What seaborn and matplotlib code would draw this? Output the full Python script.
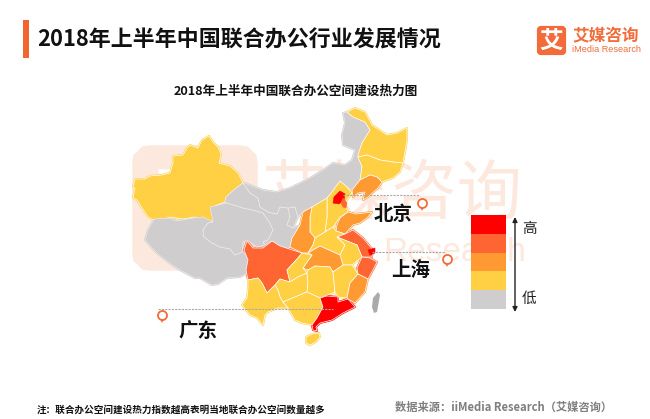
# 2018 H1 coworking space heat map of China (outlines, in pixels)

import matplotlib.pyplot as plt
from matplotlib.colors import ListedColormap
from matplotlib.patches import FancyBboxPatch
import numpy as np
import pandas as pd
import seaborn as sns

sns.set_theme(style="white")
plt.rcParams['font.family'] = ['Noto Sans CJK SC', 'DejaVu Sans']

# ================================== Data ==================================
title = "2018年上半年中国联合办公行业发展情况"
subtitle = "2018年上半年中国联合办公空间建设热力图"
note = "注：联合办公空间建设热力指数越高表明当地联合办公空间数量越多"
source = "数据来源：iiMedia Research（艾媒咨询）"

level_colors = ["#CFCDCE", "#FFCF44", "#FF9A33", "#FF6532", "#FF0000"]
legend_levels = [4, 3, 2, 1, 0]

xinjiang = [(209,136),(213,142),(218,147),(221,155),(219,163),(230,166),(238,173),(243,183),(235,189),(226,197),(225,202),(217,205),(211,208),(213,220),(210,222),(195,217),(183,219),(170,217),(157,222),(148,217),(142,208),(137,200),(133,198),(135,188),(133,187),(135,179),(145,179),(150,176),(162,175),(170,173),(173,163),(173,156),(183,155),(187,148),(190,145),(198,148),(202,140)]
tibet = [(154,219),(169,218),(177,221),(193,218),(203,217),(213,222),(208,223),(203,230),(204,237),(212,243),(220,247),(230,249),(235,255),(242,252),(247,255),(250,268),(248,273),(240,277),(227,278),(218,284),(212,285),(200,278),(195,278),(180,270),(172,265),(158,254),(152,248),(145,240),(148,230)]
qinghai = [(210,207),(227,203),(243,208),(253,210),(263,213),(270,223),(273,230),(268,240),(263,242),(265,245),(257,247),(247,240),(243,242),(242,252),(235,255),(230,249),(220,247),(212,243),(204,237),(203,230),(208,223),(213,222)]
gansu = [(243,183),(250,193),(258,198),(260,207),(268,212),(277,214),(280,207),(288,208),(290,217),(287,225),(293,228),(300,225),(292,238),(290,247),(287,250),(277,245),(272,241),(265,245),(263,242),(268,240),(273,230),(270,223),(263,213),(253,210),(243,208),(227,203),(225,202),(226,197),(235,189)]
ningxia = [(288,208),(295,207),(298,217),(293,228),(287,225),(290,217)]
inner_mongolia = [(343,113),(347,112),(353,117),(365,122),(370,130),(362,143),(358,155),(362,167),(360,180),(352,190),(347,187),(340,181),(332,192),(327,198),(312,207),(303,212),(298,217),(295,207),(288,208),(280,207),(277,214),(268,212),(260,207),(258,198),(250,193),(243,183),(245,183),(263,190),(277,192),(290,188),(310,178),(323,170),(333,163),(345,165),(352,160),(355,150),(343,145),(342,135),(345,123)]
heilongjiang = [(347,112),(355,108),(365,112),(372,125),(387,135),(397,133),(407,128),(407,140),(403,163),(393,162),(380,160),(367,155),(358,157),(358,155),(362,143),(370,130),(365,122),(353,117)]
jilin = [(358,157),(367,155),(380,160),(393,162),(403,163),(400,172),(393,178),(382,182),(377,177),(370,175),(360,180),(362,167)]
liaoning = [(352,190),(360,180),(370,175),(377,177),(382,182),(378,188),(368,197),(363,200),(365,192),(358,193),(353,197)]
hebei = [(327,198),(332,192),(340,181),(347,187),(352,193),(345,203),(348,212),(340,217),(333,227),(325,232),(327,217)]
beijing = [(334,197),(340,191),(345,194),(344,200),(339,204),(333,203)]
tianjin = [(343,198),(347,203),(346,208),(343,207),(341,203)]
shanxi = [(312,207),(327,198),(327,217),(325,232),(315,238),(310,232),(310,217)]
shaanxi = [(312,207),(310,217),(310,232),(315,238),(313,245),(308,253),(302,253),(290,247),(292,238),(300,225),(303,212)]
shandong = [(337,225),(340,218),(348,212),(356,214),(372,212),(367,218),(360,223),(353,225),(345,234),(336,231)]
henan = [(315,238),(325,232),(333,227),(336,231),(345,234),(337,237),(345,245),(340,255),(320,246),(308,253),(313,245)]
jiangsu = [(345,234),(353,230),(363,238),(373,250),(372,257),(362,257),(357,245),(337,237)]
shanghai = [(368,250),(375,248),(375,253),(370,255)]
anhui = [(337,237),(357,245),(362,257),(352,265),(343,265),(340,255),(345,245)]
zhejiang = [(362,257),(370,258),(377,262),(373,270),(368,279),(358,274),(357,268)]
hubei = [(308,253),(320,246),(340,255),(343,265),(333,272),(330,267),(315,266),(308,270),(303,268),(312,255)]
sichuan = [(247,241),(253,248),(263,248),(272,241),(280,246),(302,253),(298,258),(287,270),(290,282),(280,279),(275,285),(267,293),(262,283),(258,278),(248,280),(246,270),(248,260),(244,250)]
chongqing = [(302,253),(312,255),(303,268),(307,273),(298,277),(290,282),(287,270),(298,258)]
guizhou = [(275,285),(280,279),(290,282),(298,277),(307,273),(308,282),(307,292),(295,297),(283,302),(280,297),(278,290)]
yunnan = [(248,280),(258,278),(262,283),(267,293),(275,285),(278,290),(280,297),(283,302),(288,308),(278,308),(268,312),(265,315),(263,325),(257,318),(250,315),(242,305),(247,298),(248,288)]
hunan = [(308,270),(315,266),(330,267),(333,272),(335,292),(320,298),(307,292),(308,282),(307,273)]
jiangxi = [(333,272),(343,265),(352,265),(358,274),(350,283),(347,298),(338,297),(335,292)]
fujian = [(358,274),(368,279),(365,292),(355,303),(348,299),(347,298),(350,283)]
guangxi = [(283,302),(295,297),(307,292),(320,298),(323,307),(317,318),(312,325),(302,323),(295,320),(288,308)]
guangdong = [(320,298),(327,296),(338,297),(338,302),(348,299),(355,307),(343,313),(332,320),(320,323),(316,327),(317,331),(313,330),(312,325),(317,318),(323,307)]
hainan = [(306,337),(312,334),(319,333),(320,337),(316,342),(310,345),(306,343)]

provinces = [xinjiang, tibet, qinghai, gansu, ningxia, inner_mongolia, heilongjiang, jilin,
             liaoning, hebei, shanxi, shaanxi, shandong, henan, jiangsu, anhui, zhejiang,
             hubei, sichuan, chongqing, guizhou, yunnan, hunan, jiangxi, fujian, guangxi,
             guangdong, hainan]
province_levels = [1, 0, 0, 0, 0, 0, 1, 1,
                   2, 1, 1, 2, 2, 1, 3, 1, 3,
                   2, 3, 1, 1, 1, 1, 1, 2, 1,
                   4, 1]
# too small to carry a white border
small_regions = [beijing, tianjin, shanghai]
small_levels = [4, 3, 4]
taiwan = [(378,292),(380,295),(377,312),(374,313),(372,307),(373,298)]

city_names = ["北京", "上海", "广东"]
city_label_x = [393, 411, 198]
city_label_y = [214, 270, 331]
leader_x0 = [343, 372, 158]
leader_x1 = [420, 445, 333]
leader_y = [195, 252, 309]
pin_x = [422, 447, 162]
pin_y = [203, 259, 315]

# ================================== Figure ==================================
fig = plt.figure(figsize=(6.5, 4.19), dpi=100)
ax = fig.add_axes([0, 0, 1, 1])
ax.set_xlim(0, 650)
ax.set_ylim(419, 0)
ax.axis("off")

# Watermark behind the map
wm = "#FDE8DD"
ax.add_patch(FancyBboxPatch((149, 162), 92, 92, boxstyle="round,pad=0,rounding_size=2",
                            fc=wm, ec=wm, lw=24, zorder=1))
ax.text(195, 208, "艾", fontsize=62, color="white", ha="center", va="center", zorder=1)
ax.text(392, 195, "艾媒咨询", fontsize=47, color=wm, ha="center", va="center", zorder=1)
ax.text(455, 252, "Research", fontsize=24, color=wm, ha="center", va="center",
        family="Liberation Sans", zorder=1)

# Header
ax.fill([23, 29, 29, 23], [20, 20, 58, 58], color="#F26430", lw=0)
ax.text(37, 40, title, fontsize=15.8, color="#111111", va="center", weight="bold")
ax.text(296, 91, subtitle, fontsize=9.1, color="#111111", ha="center", va="center", weight="bold")

# Logo
ax.add_patch(FancyBboxPatch((539, 28), 25, 25, boxstyle="round,pad=0,rounding_size=2",
                            fc="#F26B3A", ec="#F26B3A", lw=3))
ax.text(551.5, 40.5, "艾", fontsize=17, color="white", ha="center", va="center", weight="bold")
ax.text(606, 36, "艾媒咨询", fontsize=12, color="#F26B3A", ha="center", va="center", weight="bold")
ax.text(606, 50, "iMedia Research", fontsize=6.6, color="#F26B3A", ha="center", va="center",
        family="Liberation Sans")

# Map: a first pass in each fill colour closes the hairline gaps between outlines
for outline, level in zip(provinces, province_levels):
    xs, ys = zip(*outline)
    ax.fill(xs, ys, fc=level_colors[level], ec=level_colors[level], lw=1.4,
            joinstyle="round", zorder=2)
for outline, level in zip(provinces, province_levels):
    xs, ys = zip(*outline)
    ax.fill(xs, ys, fc=level_colors[level], ec="#FFFFFF" if level else "#ECEAEA", lw=0.5,
            joinstyle="round", zorder=2.1)
for outline, level in zip(small_regions, small_levels):
    xs, ys = zip(*outline)
    ax.fill(xs, ys, fc=level_colors[level], ec=level_colors[level], lw=0.4, zorder=2.2)
xs, ys = zip(*taiwan)
ax.fill(xs, ys, fc="#ABABAB", ec="none", zorder=2)

# Leader lines and city labels
for name, lx, ly, x0, x1, y, px, py in zip(city_names, city_label_x, city_label_y,
                                           leader_x0, leader_x1, leader_y, pin_x, pin_y):
    line = pd.DataFrame({"x": [x0, x1], "y": [y, y]})
    sns.lineplot(data=line, x="x", y="y", ax=ax, color="#AAAAAA", lw=0.8, ls=(0, (2, 1)), zorder=3,
                 errorbar=None, sort=False)
    ax.plot(px, py + 5, marker="v", ms=5, color="#F26B3A", mew=0, zorder=4)
    ax.plot(px, py, marker="o", ms=6.5, mfc="white", mec="#F26B3A", mew=1.3, zorder=4)
    ax.text(lx, ly, name, fontsize=14, color="#111111", ha="center", va="center",
            weight="bold", zorder=5)
ax.set_xlabel("")
ax.set_ylabel("")
ax.axis("off")
ax.set_xlim(0, 650)
ax.set_ylim(419, 0)

# Legend: stacked colour cells
leg = fig.add_axes([471 / 650, 1 - 309 / 419, 35 / 650, 94 / 419])
sns.heatmap(np.array(legend_levels).reshape(-1, 1), ax=leg, cmap=ListedColormap(level_colors),
            vmin=-0.5, vmax=4.5, cbar=False, xticklabels=False, yticklabels=False)
leg.patch.set_alpha(0)

ax.annotate("", xy=(515, 217), xytext=(515, 312),
            arrowprops=dict(arrowstyle="<|-|>", color="#222222", lw=1, mutation_scale=7,
                            shrinkA=0, shrinkB=0))
ax.text(529, 229, "高", fontsize=10.5, color="#222222", ha="center", va="center")
ax.text(529, 299, "低", fontsize=10.5, color="#222222", ha="center", va="center")

# Footer
ax.text(37, 410, note, fontsize=6.9, color="#111111", va="center", weight="bold")
ax.text(395, 407, source, fontsize=8.1, color="#7F7F7F", va="center", weight="bold")

fig.savefig("out.png", dpi=100)
